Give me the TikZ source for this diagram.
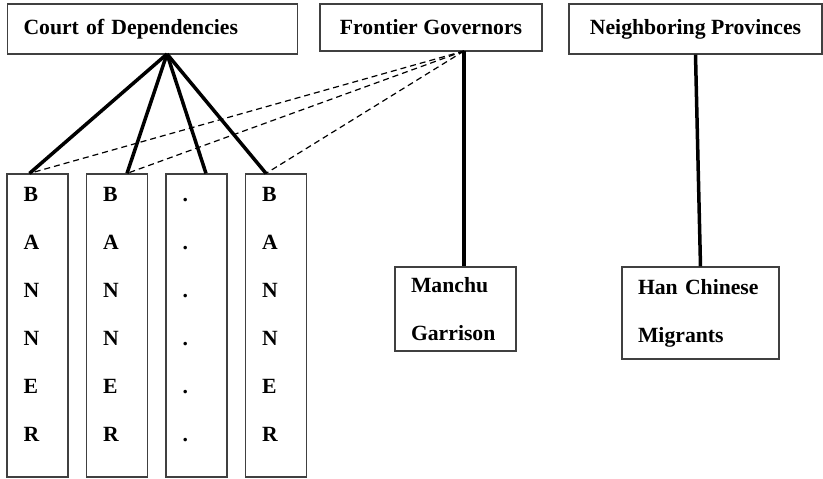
\documentclass[tikz,border=0pt]{standalone}
\usepackage{fontspec}
\setmainfont{Liberation Serif}
\usetikzlibrary{calc}
\tikzset{
    top box/.style = {
        draw=black!75,
        line width=1.2pt,
        minimum height=50pt,
        inner xsep=16pt,
        font=\bfseries\fontsize{21.7}{25}\selectfont,
        },
    banner/.style = {
        draw=black!75,
        line width=1.2pt,
        minimum width=61pt,
        minimum height=303pt,
        },
    letters/.style = {
        anchor=north west,
        inner sep=0pt,
        align=left,
        font=\bfseries\fontsize{21.7}{48}\selectfont,
        },
    group box/.style = {
        draw=black!75,
        line width=1.2pt,
        inner xsep=16pt,
        align=left,
        font=\bfseries\fontsize{21.7}{48}\selectfont,
        },
    rule/.style = {
        line width=3.5pt,
        },
    oversight/.style = {
        line width=1.2pt,
        dash pattern=on 6pt off 4pt,
        },
}
\begin{document}
\begin{tikzpicture}[x=1pt,y=-1pt]
            \useasboundingbox (0,0) rectangle (823,479);

            \node[top box, minimum width=290pt, text width=258pt, align=left] (court) at (152.5,29) {Court of Dependencies};
            \node[top box, minimum width=222pt, minimum height=47pt] (frontier) at (431,27.5) {Frontier Governors};
            \node[top box, minimum width=253pt] (neigh) at (695.5,29) {Neighboring Provinces};

            \node[banner] (ban1) at (37.5,325.5) {};
            \node[banner] (ban2) at (117,325.5) {};
            \node[banner] (ban3) at (196.5,325.5) {};
            \node[banner] (ban4) at (276,325.5) {};

            \node[letters] (word1) at ($(ban1.north west)+(17,14)$) {B\\A\\N\\N\\E\\R};
            \node[letters] (word2) at ($(ban2.north west)+(17,14)$) {B\\A\\N\\N\\E\\R};
            \node[letters] (dots3) at ($(ban3.north west)+(17,14)$) {\vphantom{B}.\\.\\.\\.\\.\\.};
            \node[letters] (word4) at ($(ban4.north west)+(17,14)$) {B\\A\\N\\N\\E\\R};

            \node[group box, minimum width=121pt, minimum height=84pt, text width=89pt] (manchu) at (455.5,309) {Manchu\\Garrison};
            \node[group box, minimum width=157pt, minimum height=92pt, text width=125pt] (han) at (700.5,313) {Han Chinese\\Migrants};

            \coordinate (court hub) at (167,54);
            \coordinate (frontier hub) at (464,51);

            \draw[rule] (court hub) -- ([xshift=-8pt]ban1.north);
            \draw[rule] (court hub) -- ([xshift=10pt]ban2.north);
            \draw[rule] (court hub) -- ([xshift=9.5pt]ban3.north);
            \draw[rule] (court hub) -- ([xshift=-10pt]ban4.north);

            \draw[oversight] (frontier hub) -- ([xshift=-8pt]ban1.north);
            \draw[oversight] (frontier hub) -- ([xshift=10pt]ban2.north);
            \draw[oversight] (frontier hub) -- ([xshift=-10pt]ban4.north);

            \draw[rule] (frontier hub) -- (frontier hub |- manchu.north);
            \draw[rule] (neigh.south) -- (han.north);
\end{tikzpicture}
\end{document}
